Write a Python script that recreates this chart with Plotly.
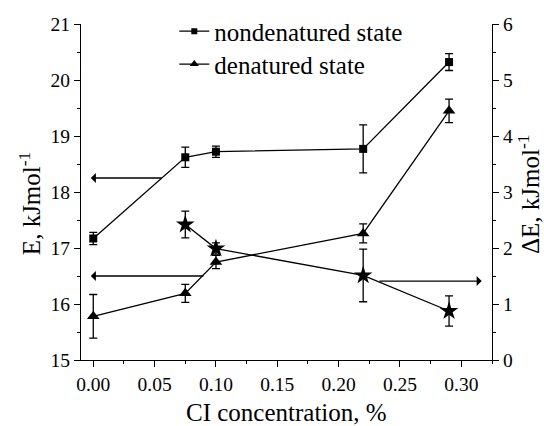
import plotly.graph_objects as go

# ---- data ----
conc = [0.0, 0.075, 0.10, 0.22, 0.29]
E_nondenatured = [17.17, 18.62, 18.72, 18.77, 20.32]
E_nondenatured_err = [0.11, 0.18, 0.10, 0.43, 0.15]
E_denatured = [15.78, 16.19, 16.75, 17.26, 19.45]
E_denatured_err = [0.39, 0.16, 0.12, 0.17, 0.21]
conc_dE = [0.075, 0.10, 0.22, 0.29]
dE = [2.42, 1.99, 1.51, 0.875]
dE_err = [0.24, 0.10, 0.47, 0.27]
x_ticks = [0.0, 0.05, 0.10, 0.15, 0.20, 0.25, 0.30]
y_ticks = [15, 16, 17, 18, 19, 20, 21]
y2_ticks = [0, 1, 2, 3, 4, 5, 6]

FONT = "Liberation Serif"
BLACK = "black"
LW = 1.3

fig = go.Figure()

def err(arr):
    return dict(type="data", array=arr, visible=True, color=BLACK, thickness=LW, width=4)

fig.add_trace(go.Scatter(x=conc, y=E_nondenatured, mode="lines+markers",
                         line=dict(color=BLACK, width=LW),
                         marker=dict(symbol="square", size=8, color=BLACK),
                         error_y=err(E_nondenatured_err), showlegend=False))
fig.add_trace(go.Scatter(x=conc, y=E_denatured, mode="lines+markers",
                         line=dict(color=BLACK, width=LW),
                         marker=dict(symbol="triangle-up", size=11, color=BLACK),
                         error_y=err(E_denatured_err), showlegend=False))
fig.add_trace(go.Scatter(x=conc_dE, y=dE, mode="lines+markers", yaxis="y2",
                         line=dict(color=BLACK, width=LW),
                         marker=dict(symbol="star", size=14, color=BLACK),
                         error_y=err(dE_err), showlegend=False))

# legend entries
fig.add_trace(go.Scatter(x=[None], y=[None], mode="lines+markers", name="nondenatured state",
                         line=dict(color=BLACK, width=LW),
                         marker=dict(symbol="square", size=6, color=BLACK), legend="legend"))
fig.add_trace(go.Scatter(x=[None], y=[None], mode="lines+markers", name="denatured state",
                         line=dict(color=BLACK, width=LW),
                         marker=dict(symbol="triangle-up", size=8, color=BLACK), legend="legend2"))

axis_common = dict(showline=True, linecolor=BLACK, linewidth=LW, ticks="outside",
                   ticklen=6, tickwidth=LW, tickcolor=BLACK, showgrid=False, zeroline=False,
                   tickfont=dict(family=FONT, size=19.5, color=BLACK))

fig.update_layout(
    template="none",
    width=544, height=426,
    margin=dict(l=81, r=52, t=24, b=66, autoexpand=False),
    paper_bgcolor="white", plot_bgcolor="white",
    font=dict(family=FONT, size=20, color=BLACK),
    xaxis=dict(range=[-0.01, 0.325], tickvals=x_ticks,
               ticktext=[f"{v:.2f}" for v in x_ticks],
               minor=dict(ticks="outside", ticklen=3, dtick=0.025, tick0=0, tickwidth=LW, tickcolor=BLACK),
               **axis_common),
    yaxis=dict(range=[15, 21], tickvals=y_ticks,
               minor=dict(ticks="outside", ticklen=3, dtick=0.5, tick0=15, tickwidth=LW, tickcolor=BLACK),
               **axis_common),
    yaxis2=dict(range=[0, 6], tickvals=y2_ticks, overlaying="y", side="right",
                minor=dict(ticks="outside", ticklen=3, dtick=0.5, tick0=0, tickwidth=LW, tickcolor=BLACK),
                **axis_common),
    legend=dict(x=0.227, y=0.978, xanchor="left", yanchor="middle", bgcolor="rgba(0,0,0,0)",
                font=dict(family=FONT, size=25, color=BLACK), itemwidth=30),
    legend2=dict(x=0.227, y=0.88, xanchor="left", yanchor="middle", bgcolor="rgba(0,0,0,0)",
                 font=dict(family=FONT, size=25, color=BLACK), itemwidth=30),
)

annotations = [
    dict(x=0.5, y=-0.155, xref="paper", yref="paper", text="CI concentration, %",
         showarrow=False, font=dict(family=FONT, size=25, color=BLACK), yanchor="middle"),
    dict(x=-0.124, y=0.464, xref="paper", yref="paper", text="E, kJmol<sup>-1</sup>",
         textangle=-90, showarrow=False, font=dict(family=FONT, size=25, color=BLACK), xanchor="center"),
    dict(x=1.09, y=0.494, xref="paper", yref="paper", text="ΔE, kJmol<sup>-1</sup>",
         textangle=-90, showarrow=False, font=dict(family=FONT, size=25, color=BLACK), xanchor="center"),
    # arrows
    dict(x=-0.002, y=18.25, ax=0.057, ay=18.25, xref="x", yref="y", axref="x", ayref="y",
         text="", showarrow=True, arrowhead=1, arrowsize=1.3, arrowwidth=LW, arrowcolor=BLACK),
    dict(x=-0.002, y=16.5, ax=0.091, ay=16.5, xref="x", yref="y", axref="x", ayref="y",
         text="", showarrow=True, arrowhead=1, arrowsize=1.3, arrowwidth=LW, arrowcolor=BLACK),
    dict(x=0.3166, y=1.41, ax=0.232, ay=1.41, xref="x", yref="y2", axref="x", ayref="y2",
         text="", showarrow=True, arrowhead=1, arrowsize=1.3, arrowwidth=LW, arrowcolor=BLACK),
]
fig.update_layout(annotations=annotations)

fig.write_html("out.html")
